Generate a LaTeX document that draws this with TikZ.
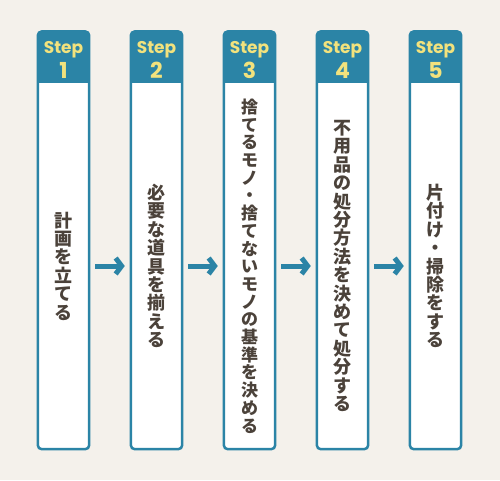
\documentclass[tikz,border=0pt]{standalone}
\usepackage{fontspec}
\newfontfamily\jpfont{Noto Sans CJK JP}
\newfontfamily\stepfont{Poppins}
\usetikzlibrary{arrows.meta}
\definecolor{kteal}{HTML}{2B84A6}
\definecolor{kyellow}{HTML}{F2E27D}
\definecolor{kbg}{HTML}{F4F1EB}
\definecolor{ktext}{HTML}{4B423A}
\tikzset{
stepbody/.style={minimum width=51pt,minimum height=366pt,inner sep=0pt,align=center,text=ktext},
stephead/.style={minimum width=51pt,minimum height=51pt,inner sep=0pt},
steplbl/.style={inner sep=0pt,anchor=base,text=kyellow,font=\stepfont\bfseries\fontsize{17}{17}\selectfont},
stepnum/.style={inner sep=0pt,anchor=base,text=kyellow,font=\stepfont\bfseries\fontsize{22}{22}\selectfont},
frame/.style={draw=kteal,fill=white,line width=2.5pt,rounded corners=4pt},
flow/.style={draw=kteal,line width=5pt,-{Straight Barb[length=6pt,width=16pt]},shorten <=6pt,shorten >=6pt}
}
\begin{document}
\begin{tikzpicture}[x=1pt,y=-1pt]
\fill[kbg](0,0)rectangle(500,480);
\pgfmathsetmacro{\kxstep}{93}
\foreach \ki/\klb/\kfs/\kbs in {1/{計\\画\\を\\立\\て\\る}/18/18.4,
2/{必\\要\\な\\道\\具\\を\\揃\\え\\る}/18/18.4,
3/{捨\\て\\る\\モ\\ノ\\・\\捨\\て\\な\\い\\モ\\ノ\\の\\基\\準\\を\\決\\め\\る}/17/17.7,
4/{不\\用\\品\\の\\処\\分\\方\\法\\を\\決\\め\\て\\処\\分\\す\\る}/18/18.4,
5/{片\\付\\け\\・\\掃\\除\\を\\す\\る}/18/18.4}{
\node[stepbody] (body\ki) at (63.5+\kxstep*\ki-\kxstep,266) {};
\node[stephead,anchor=south] (head\ki) at (body\ki.north) {};
\draw[frame](head\ki.north west)rectangle(body\ki.south east);
\fill[kteal](head\ki.south west)[rounded corners=4pt]--(head\ki.north west)--(head\ki.north east)[sharp corners]--(head\ki.south east)--cycle;
\node[stepbody,font=\jpfont\bfseries\fontsize{\kfs}{\kbs}\selectfont] (txt\ki) at (body\ki.center) {\klb};
\node[steplbl] (lbl\ki) at (63.5+\kxstep*\ki-\kxstep,53.5) {Step};
\node[stepnum] (num\ki) at (63.5+\kxstep*\ki-\kxstep,78) {\ki};
}
\foreach \ki/\kj in {1/2,2/3,3/4,4/5}{\draw[flow](body\ki.east)--(body\kj.west);}
\end{tikzpicture}
\end{document}
